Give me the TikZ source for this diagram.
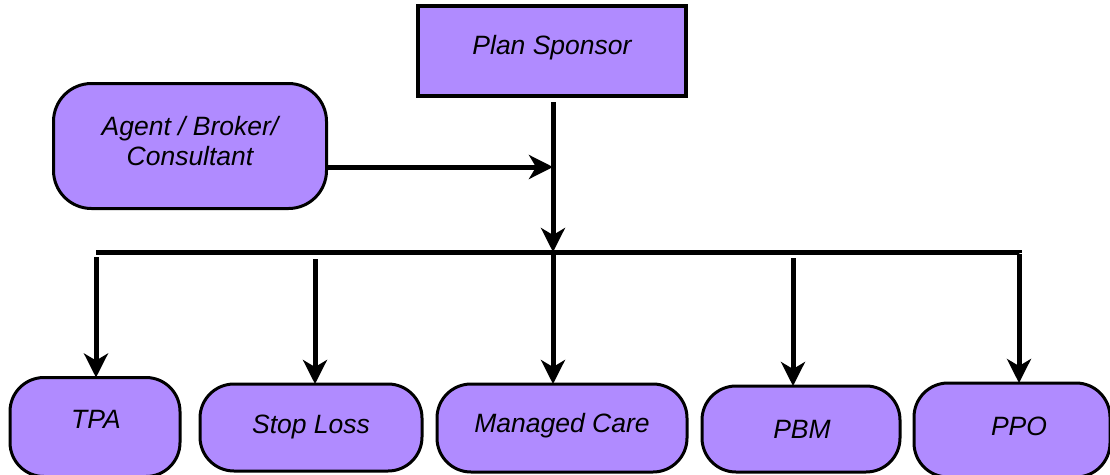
\documentclass[tikz,border=0pt]{standalone}
\usepackage{fontspec}
\setmainfont{Liberation Sans}
\usetikzlibrary{arrows.meta}
\definecolor{boxfill}{RGB}{176,139,255}
\tikzset{
  box/.style={draw=black, fill=boxfill, line width=3pt, inner sep=0pt, outer sep=0pt},
  sqbox/.style={box, line width=3.5pt},
  rbox/.style={box, rounded corners=34pt},
  lbl/.style={font=\fontsize{26.5}{30}\selectfont\itshape, inner sep=0pt, align=center},
  conn/.style={line width=5pt},
  arr/.style={conn, -{Stealth[length=24pt, width=24pt, inset=7pt]}},
}
\begin{document}
\begin{tikzpicture}[x=1pt,y=-1pt]
\useasboundingbox (0,0) rectangle (1110,474);
\fill[white] (0,0) rectangle (1110,474);
\clip (0,0) rectangle (1110,474);
% boxes
\node[sqbox, minimum width=268pt, minimum height=90pt] (ps) at (552,51) {};
\node[rbox, rounded corners=38pt, minimum width=273pt, minimum height=125pt] (agent) at (190,146) {};
\node[rbox, minimum width=170pt, minimum height=99pt] (tpa) at (95,427) {};
\node[rbox, minimum width=222pt, minimum height=87pt] (sl) at (311,427.5) {};
\node[rbox, minimum width=250pt, minimum height=88pt] (mc) at (562,428) {};
\node[rbox, minimum width=198pt, minimum height=86pt] (pbm) at (801,429) {};
\node[rbox, minimum width=196pt, minimum height=94pt] (ppo) at (1012,430) {};
% labels
\node[lbl] (pst) at (552,48) {Plan Sponsor};
\node[lbl] (agentt) at (190,141) {Agent / Broker/\\Consultant};
\node[lbl] (tpat) at (96,419) {TPA};
\node[lbl] (slt) at (311,427) {Stop Loss};
\node[lbl] (mct) at (562,426) {Managed Care};
\node[lbl] (pbmt) at (802,429) {PBM};
\node[lbl] (ppot) at (1019,426) {PPO};
% bus coordinates
\coordinate (busL) at (96,252);
\coordinate (busR) at (1019,252);
\coordinate (busC) at (553,252);
\coordinate (j1) at (96,257);
\coordinate (j2) at (315,259);
\coordinate (j4) at (793,258);
% connectors
\draw[arr] (ps.south) ++(1,6) coordinate (psb) -- (psb |- busC);
\draw[arr] (agent.east |- 0,167) -- (psb |- 0,167);
\draw[conn] (busL) -- (busR) -- ++(0,1);
\draw[arr] (j1) -- (j1 |- tpa.north);
\draw[arr] (j2) -- (j2 |- sl.north);
\draw[arr] (busC) -- (busC |- mc.north);
\draw[arr] (j4) -- (j4 |- pbm.north);
\draw[arr] ([yshift=-2pt]busR) -- (busR |- ppo.north);
\end{tikzpicture}
\end{document}
